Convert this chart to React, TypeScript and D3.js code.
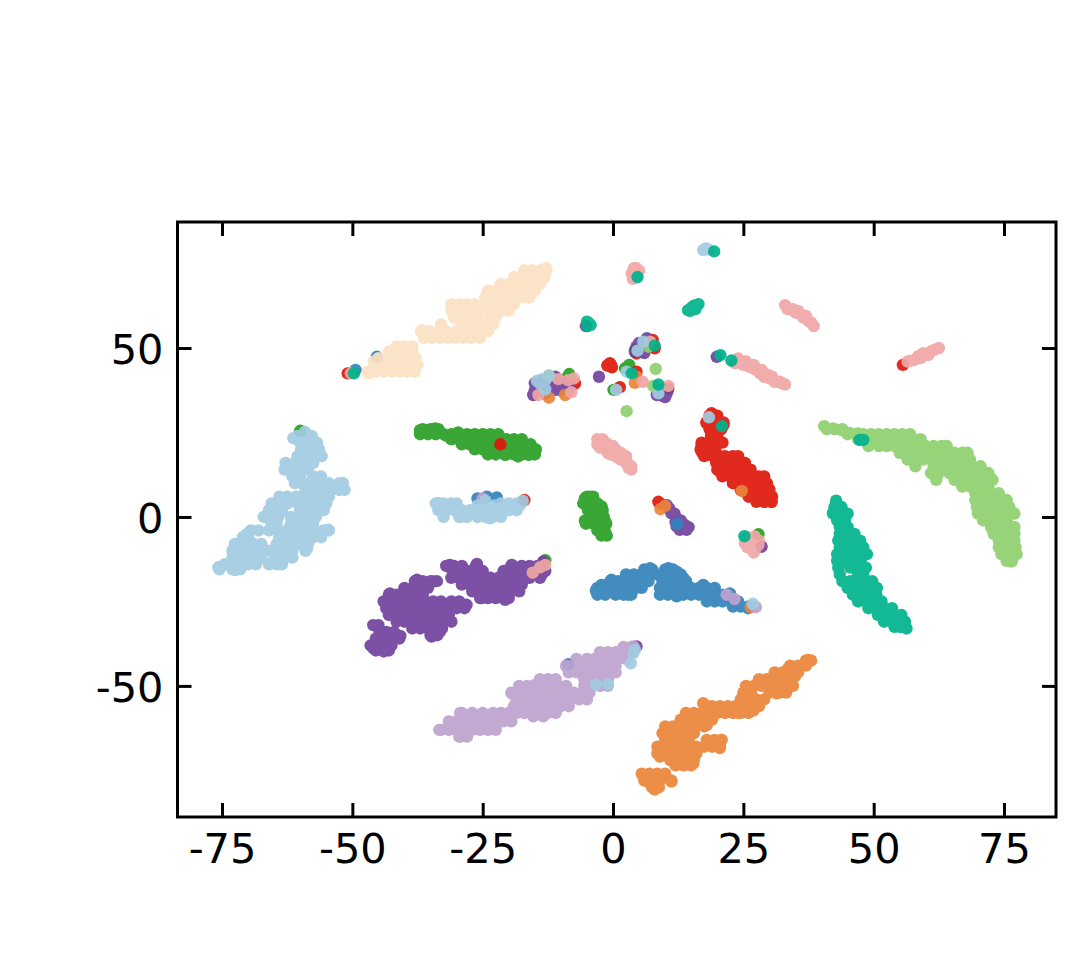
import * as d3 from 'd3';
import { useEffect, useRef } from 'react';

type Pt = [number, number];

const xTicks = [-75, -50, -25, 0, 25, 50, 75];
const yTicks = [-50, 0, 50];

// points: [y, x, x, x...]
const greenRows: number[][] = [
  [26, -36.5, -35, -33.5],
  [24.5, -37, -35.5, -34, -32.5, -31, -29.5, -28, -26.5, -25, -23.5, -22],
  [23, -31, -29.5, -28, -26.5, -25, -23.5, -22, -20.5, -19, -17.5],
  [21.5, -29, -27.5, -26, -24.5, -23, -21.5, -20, -18.5, -17, -15.8],
  [20, -26.5, -25, -23.5, -22, -20.5, -19, -17.5, -16, -14.8],
  [18.5, -24, -22.5, -20.5, -19, -17.5, -16, -15],
  [6, -5, -3.8],
  [4, -5.5, -4.2, -3],
  [2, -4.8, -3.2, -2],
  [0, -4.5, -3, -1.8],
  [-2, -5.2, -3.8, -2.4, -1.3],
  [-4, -3, -1.6],
  [-5.5, -2.2, -1.2],
];
const redRows: number[][] = [
  [30, 18.5, 19.5, 20],
  [28, 17.9, 19, 20.2, 21.2],
  [26, 18.5, 19.8, 20.8],
  [24, 18.8, 20],
  [22, 17, 18.5, 20, 21],
  [20, 16.8, 18.2, 19.6],
  [18, 17.5, 19.2, 20.5, 21.5, 23, 24],
  [16, 19.8, 21.2, 22.6, 24.1, 25.3],
  [14, 20, 21.2, 22.7, 24, 25.5, 26.4],
  [12, 21, 22.5, 24, 25.5, 27, 28, 29],
  [10, 23, 24.5, 26, 27.5, 29, 29.5],
  [8, 24.5, 26, 27.5, 29, 30],
  [6, 26, 27.5, 29, 30.5],
  [4.5, 27.5, 29, 30.4],
  [45.5, -0.6], [44.8, -1.1], [44.3, -0.2],
];
const purpleRows: number[][] = [
  [-32, -46, -45],
  [-34, -44.8, -43.5, -42],
  [-36, -45.5, -44, -42.5, -41],
  [-38, -46.5, -45, -43.5, -42.5],
  [-39.5, -45.5, -44, -43],
  [-19, -38, -36.5, -35, -33.8],
  [-21, -40, -38.5, -37, -35.5],
  [-23, -43, -41.5, -39.5, -38, -36.5],
  [-25, -44, -42.5, -41, -39, -37.5, -36, -34.5, -33, -31, -29.5],
  [-27, -43.5, -42, -40.5, -39, -37.5, -36, -34.5, -33, -31.5, -30, -28.5],
  [-29, -43, -41.5, -40, -38.5, -37, -35.5, -34, -32.5, -31.5],
  [-31, -41.5, -40, -38.5, -37, -35.5, -34, -32.5, -31],
  [-33, -38.5, -37, -35.5, -34, -32.8],
  [-35, -35, -33.7],
  [-14.5, -32, -30.5, -29, -26.3, -19.5, -17.5, -16, -14.5, -13.5],
  [-16, -30.8, -29.5, -28, -26.5, -25, -21, -19.5, -18, -16.5, -15, -13],
  [-18, -31, -29.5, -28, -26.5, -25, -23.5, -22, -20.5, -19, -17.5, -16, -14],
  [-20, -29, -27.5, -26, -24.5, -23, -21.5, -20, -18.5, -17.5],
  [-22, -27, -25.5, -24, -22.5, -21, -19.5, -18],
  [-24, -25.5, -24, -22.5, -21, -20],
  [2.5, 10.8], [1, 11.8], [-1.5, 12], [-1, 13], [-3, 13.5, 14.5], [-2.8, 12.2],
  [37.5, -15, -12.5, -10, 9, 10.5], [38.5, -14, -8.5], [36.5, -13], [39, -12], [39.5, -10.5], [40, -9.5], [38, -10, -8.5],
  [51.5, 5], [50.5, 5.5], [49, 5.5], [48.5, 6], [35.8, 9.5], [35.5, 10],
];
const blueRows: number[][] = [
  [-15.5, 6, 7.5, 10, 11.5],
  [-17, 2.5, 4, 5.5, 7, 8.5, 10, 11.5, 13],
  [-19, -0.5, 1, 2.5, 4, 5.5, 6.8, 9.5, 11, 12.5, 14],
  [-21, -3, -1.5, 0, 1.5, 3, 4.5, 5.5, 9, 10.5, 12, 13.5, 15, 16.5, 18, 19.5],
  [-23, -3, -1.5, 0.5, 2, 3.5, 9, 10.5, 12, 13.5, 15, 16.5, 18, 19.5, 21, 22.5],
  [-25, 18, 19.5, 21, 22.5, 24],
  [-26.5, 23, 24.5, 26],
];
const orangeRows: number[][] = [
  [-42.5, 37, 38],
  [-44, 34, 35.5, 37],
  [-46, 31, 32.5, 34, 35.5],
  [-48, 28, 29.5, 31, 32.5, 34],
  [-50, 25.5, 27, 28.5, 30, 31.5, 33, 34.5],
  [-52, 25, 26.5, 30, 32, 33.2],
  [-54, 24.5, 26, 27.5, 29],
  [-56, 18, 19, 20.5, 22, 23.5, 25, 26.5, 28],
  [-58, 14, 15.5, 17, 18.5, 20, 21.5, 23, 24.5, 26],
  [-60, 13, 14.5, 16, 17.5, 19],
  [-62, 10, 11.5, 13, 14.5, 16, 17.5],
  [-64, 9.5, 11, 12.5, 14, 15.5],
  [-66, 10, 11.5, 13, 14.5, 18, 19.5, 20.8],
  [-68, 8.5, 10, 11.5, 13, 14.5, 16, 17.5, 19, 20.5],
  [-70, 8.5, 10, 11.5, 13, 14.5, 16],
  [-72, 11, 12.5, 14, 15.5],
  [-73.5, 12, 13.5, 15],
  [-76, 5.5, 7, 8.5, 10],
  [-78, 6, 7.5, 9, 11.2],
  [-80, 7.5, 8.8],
];
const lightGreenRows: number[][] = [
  [26, 41, 42.5, 44],
  [24.5, 45, 46.5, 48, 49.5, 51, 52.5, 54, 55.5, 57],
  [23, 47, 50, 51.5, 53, 54.5, 56, 57.5, 59],
  [21, 49, 51, 52.5, 54, 55.5, 57, 58.5, 60, 61.5, 63, 64],
  [19, 55, 56.5, 58, 59.5, 61, 62.5, 64, 65.5, 67, 68],
  [17, 56.5, 58, 59.5, 61, 62.5, 64, 65.5, 67, 68.5],
  [15, 58, 61.5, 63, 64.5, 66, 67.5, 69, 70.5],
  [13, 61, 62.5, 64.5, 66, 67.5, 69, 70.5, 72],
  [11, 62, 65.5, 67, 68.5, 70, 71.5, 72.8],
  [9, 67, 68.5, 70.5, 72],
  [7, 69.5, 71, 72.5, 74],
  [5, 69.5, 71, 72.5, 74, 75.5],
  [3, 69.8, 71.5, 73, 74.5, 76],
  [1, 70, 71.5, 73, 74.5, 76, 77],
  [-1, 71, 72.5, 74, 75.5],
  [-3, 72.5, 74, 75.5, 77],
  [-5, 73, 74.5, 76, 77],
  [-7, 74, 75.5, 77],
  [-9, 74, 75.5, 77.2],
  [-11, 74.5, 76, 77.4],
  [-13, 75.5, 76.5],
];
const lilacRows: number[][] = [
  [-65, -29.5, -28],
  [-63, -33, -31.5, -30, -28.5, -27, -25.5, -24, -22.5],
  [-60.5, -31.5, -30, -28.5, -27, -25.5, -24, -22.5, -21, -19.5],
  [-58, -29, -27, -25, -23, -21.5, -20, -18.5, -17, -15.5, -14, -12.5, -11],
  [-56, -19, -17.5, -16, -14.5, -13, -11.5, -10, -8.5],
  [-54, -18.5, -17, -15.5, -14, -12.5, -11, -9.5, -8, -6.5, -5],
  [-52, -19.5, -18, -16.5, -15, -13.5, -12, -10.5, -9, -7.5, -6, -4.5],
  [-50, -18, -16.5, -15, -13.5, -12, -10.5, -9, -5.5, -4, -2.5, -1],
  [-48, -14, -12.5, -11, -5.5, -4, -2.5, -1],
  [-46, -8.5, -7, -5, -3.5, -2, -0.5, 0.5],
  [-44, -9, -7.5, -5.5, -4, -2.5, -1, 0.5],
  [-42, -7, -5, -3.5, -2, -0.5, 1, 2.5],
  [-40, -2.5, -1, 0.5, 2, 3.5],
  [-38.5, 2, 3.5],
];
const pinkRows: number[][] = [
  [61.5, 33.5], [60.5, 35], [59, 36.5], [61, 35.5], [59.5, 37], [57.5, 38],
  [46, 56.5, 24.5, 25.5], [46.5, 57.8], [47, 59], [48.5, 59.5], [48, 60.5], [49.5, 61.7],
  [44.5, 26], [43.5, 27.5, 28.5], [45, 27], [41, 30], [41.5, 30.5], [40, 32], [39.5, 32.5],
  [20.5, -2.5], [23, -2], [22, -1.5], [21.5, -1, -3], [21, 0], [20, 0.5], [17.5, 1], [17, 1.5], [16, 2.5], [18, 2.5], [14.5, 3], [18.5, -0.5],
  [73.6, 4], [71.5, 4.5], [70.5, 3.8],
  [-6, 25.8], [-8.5, 26.5], [-9, 25.8], [-7, 26.6, 28], [-10.5, 27],
];
const wheatRows: number[][] = [
  [43, -47, -45.5, -44, -42.5, -41, -39.5, -38],
  [45, -45.5, -44, -42.5, -41, -39.5, -38, -37.5],
  [47, -45, -43.5, -42, -40.5, -39, -37.8],
  [49, -43, -41.5, -40, -38.5],
  [50.5, -41.5, -40, -38.5],
  [53, -36.3, -34.8, -33.3, -31.8, -30.3, -28.8, -27.3, -25.5],
  [55, -36.8, -35.3, -33.3, -32, -30, -28.5, -27, -25.5, -24],
  [57, -33, -29, -27.5, -26, -24.5, -23],
  [59, -30.5, -29, -27.5, -26, -23.5, -22.5],
  [61, -31, -29.5, -28, -26.5, -24.5, -23, -21.5, -20],
  [63, -31, -29.5, -28, -26.5, -25, -23.5, -22, -20.5, -19],
  [65, -24.5, -23, -21.5, -20, -18.5, -17, -16],
  [67, -24, -22.5, -21, -19.5, -18, -16.5, -15],
  [69, -21.5, -20, -18.5, -17, -15.5, -14],
  [71, -19, -17.5, -16, -14.5, -13.2],
  [73, -17, -15.5, -14, -12.8],
];
const lightBlueRows: number[][] = [
  [24, -60.5, -59, -57.8],
  [22, -60, -58.5, -56.8],
  [20, -59.8, -58, -56.4],
  [18, -60.5, -58.8, -57, -55.9],
  [16, -62.8, -61, -59.2, -57.5],
  [14, -63, -61.5, -60, -58.5],
  [12, -61.5, -60, -57.5, -56],
  [10, -61, -59.5, -58, -56.4, -54.5, -52.5, -51.8],
  [8, -59, -57.5, -56, -54, -52.5, -51.5],
  [6, -64, -62.5, -60.8, -59, -57.5, -56, -54.5],
  [4, -65.5, -64, -62.5, -60.5, -59, -57.5, -56, -55],
  [2, -66, -64.5, -63.5, -60, -58.5, -57, -55.5],
  [0, -67, -65.5, -64.2, -61.8, -60, -58.5, -57],
  [-2, -65.5, -64.5, -61.8, -60, -58.5, -57.5],
  [-4, -69.5, -68, -66, -64.5, -62.5, -61, -59.5, -57.5, -55.5, -54.5],
  [-6, -71, -70, -64, -62.5, -61, -59.5, -57.5, -56],
  [-8, -72.5, -71, -69, -67.5, -64.5, -63, -61.5, -60, -58.5],
  [-10, -73, -71.5, -70, -68.5, -67, -66, -64.5, -63, -61.5, -59],
  [-12, -73, -71.5, -70, -68.5, -67.5, -64.5, -63, -61.5],
  [-14, -74.5, -73, -71.5, -70, -68.5, -66, -64.5, -63.5],
  [-15.5, -75.5, -73, -71.5],
  [4, -34, -32.5, -31, -30, -21.5, -20, -18.5],
  [3.4, -26, -24, -22.8],
  [2, -33.5, -32, -30.5, -29, -27.5, -26, -24.5, -23, -21.5, -20, -18.5],
  [0, -32.5, -29.5, -28, -26, -24.5, -23, -21.5],
  [79.5, 17.8], [39.5, -14], [40.5, -13],
];
const tealRows: number[][] = [
  [3, 42.5, 43.8],
  [1, 42.2, 43.5, 45],
  [-1, 43, 44.5],
  [-3, 43.5, 45],
  [-5, 43.5, 45, 46.3],
  [-7, 43.2, 44.7, 46.2, 47.4],
  [-9, 43.5, 45, 46.5, 48],
  [-11, 43, 44.5, 46, 47.5, 48.7],
  [-13, 43, 44.5, 46, 47.5],
  [-15, 43.2, 45.5, 47, 48.5],
  [-17, 43.5, 47, 48],
  [-19, 44, 45.5, 47, 48.5, 49.7],
  [-21, 45, 46.5, 48, 49.5, 50.6],
  [-23, 46, 47.5, 49, 50.5],
  [-25, 47, 48.5, 50, 51.5],
  [-27, 49, 50.5, 52, 53.5],
  [-29, 50.8, 52.3, 54, 55.3],
  [-31, 52, 53.5, 55, 56],
  [-32.5, 54, 55.5],
  [57.3, -4.6], [56.5, -4.9], [61, 14.8], [62.5, 15.5], [61.5, 15.8],
];

// strays and outline points
const greenPts: Pt[] = [
  [-37, 25.7], [-35.4, 25.7], [-34.1, 26.2], [-34.1, 24.6], [-31.9, 24], [-29.7, 25], [-28.4, 22.3], [-27.7, 23.3], [-26.8, 24.3],
  [-24.5, 24.3], [-23.6, 19.3], [-22.3, 23.3], [-20.4, 22.8], [-18.2, 22.3], [-16.6, 21.3], [-15.2, 19.6], [-16.2, 18.4], [-18.2, 17.9], [-20.7, 18.4],
  [-5.4, 5.5], [-4.4, 6], [-5.7, 4], [-3.5, 3.6], [-2.2, 3.1], [-5.4, -1.1], [-1.5, -1.4], [-2.5, -3.8], [-1.5, -5.3],
  [-60, 25.5], [-13, -12.8], [27.9, -5.1], [4.2, 49.4], [3.1, 45], [2.3, 44], [0.1, 37.6], [-8.4, 42.3], [-9, 41],
];
const redPts: Pt[] = [
  [18.9, 30.7], [18, 27.7], [19.9, 29.7], [21.2, 27.2], [17, 21.3], [17, 19.3], [20.5, 13.4], [24, 16.9], [25.3, 14.4], [29.1, 10.4],
  [26.9, 11.4], [29.8, 8.5], [29.1, 4.5], [30.4, 4.5], [27.9, 5], [30.1, 6.5],
  [-21.6, 21.5], [-50.9, 42.5], [55.6, 45], [-0.9, 45], [-0.4, 45], [4.5, 43], [1.3, 38.4], [7.6, 52.4], [8, 49.9], [4.5, 48.4],
  [10.6, 38], [-7.3, 39.5], [8.7, 4.5], [9, 4], [-17, 5],
];
const purplePts: Pt[] = [
  [-46, -38.8], [-44, -39.8], [-42.8, -37.4], [-40.8, -35.2], [-42.8, -22.6], [-34.8, -35.4], [-33.2, -33.9], [-37.6, -18.6], [-34.5, -19.1],
  [-28.1, -26], [-31.3, -14.2], [-26.1, -13.9], [-25.2, -24], [-20.7, -24.5], [-19.4, -14.2], [-13.7, -17.1], [-13.4, -13.2],
  [10.3, 3.5], [11.2, 1.1], [12.5, -0.9], [14.1, -3.8], [12.8, -3.8], [13.8, -2.4],
  [28.5, -8.8], [4.5, -38.3], [-5.2, 56.5], [19.9, 47.4], [-2.7, 41.5], [6.5, 52.9], [4.5, 50.4], [4.2, 48.9], [10.3, 36.6], [8.4, 36.1],
  [-15.3, 36.1], [-15, 39.6], [-13.4, 40.5], [-11.1, 41.5], [-11.1, 37.6], [-9.2, 38.6], [-14.3, 37.6],
];
const bluePts: Pt[] = [
  [-3.3, -21.8], [-2.2, -20.1], [-0.3, -18.6], [2.9, -23], [5.2, -20.6], [7.1, -15.2], [10.6, -15.2], [12.2, -16.2], [13.5, -18.1],
  [12.2, -23.5], [17.3, -20.1], [22.4, -22.6], [25.9, -27],
  [-26, 5.5], [-24.2, 6], [-22.3, 5.8], [12.3, -2.1], [-8.6, -43.6], [-49.4, 43.5], [-45.3, 47.4],
];
const orangePts: Pt[] = [
  [37.4, -42.3], [33.6, -44.8], [34.9, -47.2], [33.3, -51.2], [31.4, -52.2], [26.9, -57.3], [24, -58], [17.3, -55.1], [18, -61.5],
  [10.6, -62.5], [9, -68.9], [9, -70.9], [12.2, -72.9], [14.1, -73.3], [15.4, -72.9], [20.8, -66], [20.5, -68.4],
  [5.8, -76.3], [9.6, -76.3], [11.2, -78.3], [7.1, -78.8], [8, -80.7],
  [9.1, 2.3], [10, 3.3], [24.7, 7.7], [26.4, -26.7], [4.5, 41.5], [4.2, 39.7], [-12.3, 35.3], [-9.2, 36.1],
];
const lightGreenPts: Pt[] = [
  [40.5, 26.9], [42.2, 26.2], [43.8, 25.7], [45.4, 24.9], [47, 24.7], [76.4, -13.2],
  [8.2, 43.8], [2.6, 31.3], [6.8, 50.4], [7.7, 38.8], [-12.3, 41.9],
];
const lilacPts: Pt[] = [
  [-33.3, -63], [-29.3, -58], [-29.3, -65], [-19.4, -52.2], [-17.8, -50.7], [-15, -49.7], [-12.4, -48.7], [-15.3, -59], [-13.4, -59], [-8.9, -44.3],
  [-4.4, -42.3], [-2.5, -41.3], [0.4, -40.3], [2.3, -39.3], [3.9, -38.3],
  [21.8, -23], [23.3, -24.3], [27.4, -26.7], [-25, 5.5],
];
const pinkPts: Pt[] = [
  [33, 62.7], [34.5, 61.5], [36, 60], [37.5, 58], [38.5, 56.5],
  [57, 46.2], [58.5, 47.5], [60, 48], [61, 49], [62.5, 50],
  [24, 46.9], [23.4, 45.5], [25, 45], [26.9, 44], [28.2, 42.5], [29, 41.5], [29.8, 42], [31, 40], [31.5, 40], [33, 39.2],
  [-3, 23], [-2.5, 22], [-2, 21.5], [-1, 20.5], [-1, 19], [0, 19.5], [0.5, 18], [1.5, 19], [2, 17], [3, 15.5], [3.5, 15], [3.5, 14],
  [4.5, 73.6], [3.6, 72.1], [5, 72.9], [25.3, -7.8], [27.2, -5.8], [27.2, -9.8], [27.9, -8.3], [26, -7],
  [-15.4, -16.5], [-14, -14.9], [-13, -14.2], [-50.3, 42.5], [7.1, 51.9], [5.7, 40], [10.6, 38.8],
  [-14.3, 36.1], [-10.5, 40.8], [-7.5, 41], [-8.6, 40.5], [-8, 36.9],
];
const lightBluePts: Pt[] = [
  [-59.1, 25.2], [-61.3, 23.3], [-52.3, 9], [-66.1, 0.1], [-70.2, -5], [-58.7, -9.3], [-65.4, -13.4], [-72.2, -8.8], [-72.5, -15.7], [-75.7, -14.9],
  [-54.6, -3.8], [-33.5, 4.1], [-28.7, 0.1], [-25.2, 0.6], [-23.6, -0.4], [-17.8, 3.6], [-17.3, 4.8], [-24.5, 4.8],
  [-3.3, -49.6], [-0.96, -49.6], [3.4, -43.3], [3.9, -40.3], [4.2, -39.3], [26.8, -25.7], [18.4, 29.5],
  [17.3, 79], [18.3, 79.2], [5.8, 51.9], [4.7, 49.2], [2.6, 43], [0.6, 37.6], [8.7, 36.6],
  [-13.7, 40.7], [-12.3, 41.7], [-14.6, 40.3], [-13, 37.8],
];
const tealPts: Pt[] = [
  [42.8, 4.8], [42.2, 1.3], [56.3, -33], [55, -32.5],
  [47.3, 22.8], [48, 22.8], [25.2, -5.7], [20.9, 26.9], [-49.7, 42.5], [4.7, 71], [19.4, 78.6],
  [14.4, 61.2], [15.1, 62], [16, 62.7], [16.4, 63], [-5, 57.8], [-4.3, 56.8], [8, 50.7], [3.6, 42.5], [8.7, 39.2], [20.6, 47.9], [22.7, 46.3],
];
const wheatPts: Pt[] = [[-46.9, 42.5], [-45.9, 46], [-36.6, 55.3], [-32.8, 56.3], [-12.8, 73.6], [-13.3, 70.6]];

const fromRows = (rows: number[][]): Pt[] =>
  rows.flatMap(([yVal, ...xs]) => xs.map((xVal) => [xVal, yVal] as Pt));

// back to front, same stacking as the reference
const layers: { name: string; color: string; pts: Pt[] }[] = [
  { name: 'green', color: '#299f24', pts: [...fromRows(greenRows), ...greenPts] },
  { name: 'red', color: '#df180b', pts: [...fromRows(redRows), ...redPts] },
  { name: 'purple', color: '#71439e', pts: [...fromRows(purpleRows), ...purplePts] },
  { name: 'blue', color: '#3283bb', pts: [...fromRows(blueRows), ...bluePts] },
  { name: 'orange', color: '#eb8539', pts: [...fromRows(orangeRows), ...orangePts] },
  { name: 'lightGreen', color: '#8fd06e', pts: [...fromRows(lightGreenRows), ...lightGreenPts] },
  { name: 'lilac', color: '#bda2cf', pts: [...fromRows(lilacRows), ...lilacPts] },
  { name: 'pink', color: '#f0a7a5', pts: [...fromRows(pinkRows), ...pinkPts] },
  { name: 'wheat', color: '#fbe1c4', pts: [...fromRows(wheatRows), ...wheatPts] },
  { name: 'lightBlue', color: '#a1cbe1', pts: [...fromRows(lightBlueRows), ...lightBluePts] },
  { name: 'teal', color: '#00b28b', pts: [...fromRows(tealRows), ...tealPts] },
];

const W = 1086;
const H = 968;
const left = 177.5;
const right = 1056;
const top = 222;
const bottom = 817;

const App = () => {
  const svgRef = useRef<SVGSVGElement>(null);

  useEffect(() => {
    const svg = d3.select(svgRef.current);
    svg.selectAll('*').remove();

    const x = d3.scaleLinear().domain([-83.54, 84.97]).range([left, right]);
    const y = d3.scaleLinear().domain([-88.8, 87.3]).range([bottom, top]);

    // opacity on the group so a blob of dots stays one flat colour
    svg
      .selectAll('g.layer')
      .data(layers)
      .join('g')
      .attr('class', 'layer')
      .attr('fill', (d) => d.color)
      .attr('opacity', 0.92)
      .selectAll('circle')
      .data((d) => d.pts)
      .join('circle')
      .attr('cx', (d) => x(d[0]))
      .attr('cy', (d) => y(d[1]))
      .attr('r', 6.2);

    const styleAxis = (g: any) => {
      g.select('.domain').remove();
      g.selectAll('.tick line').attr('stroke', '#000').attr('stroke-width', 3);
      g.selectAll('.tick text')
        .attr('fill', '#000')
        .style('font-family', '"DejaVu Sans"')
        .style('font-size', '41.5px');
    };
    const label = (d: any) => String(d);
    const blank = () => '';

    svg.append('g').attr('transform', `translate(0,${bottom})`)
      .call(d3.axisBottom(x).tickValues(xTicks).tickSize(-14).tickPadding(17).tickFormat(label) as any)
      .call(styleAxis);
    svg.append('g').attr('transform', `translate(${left},0)`)
      .call(d3.axisLeft(y).tickValues(yTicks).tickSize(-14).tickPadding(14).tickFormat(label) as any)
      .call(styleAxis)
      .call((g: any) => g.selectAll('.tick text').attr('dy', '0.365em'));
    svg.append('g').attr('transform', `translate(0,${top})`)
      .call(d3.axisTop(x).tickValues(xTicks).tickSize(-14).tickFormat(blank) as any)
      .call(styleAxis);
    svg.append('g').attr('transform', `translate(${right},0)`)
      .call(d3.axisRight(y).tickValues(yTicks).tickSize(-14).tickFormat(blank) as any)
      .call(styleAxis);

    svg.append('rect')
      .attr('x', left)
      .attr('y', top)
      .attr('width', right - left)
      .attr('height', bottom - top)
      .attr('fill', 'none')
      .attr('stroke', '#000')
      .attr('stroke-width', 3);
  }, []);

  return (
    <svg
      ref={svgRef}
      width={W}
      height={H}
      style={{ position: 'absolute', left: 0, top: 0, background: '#fff' }}
    />
  );
};

export default App;
